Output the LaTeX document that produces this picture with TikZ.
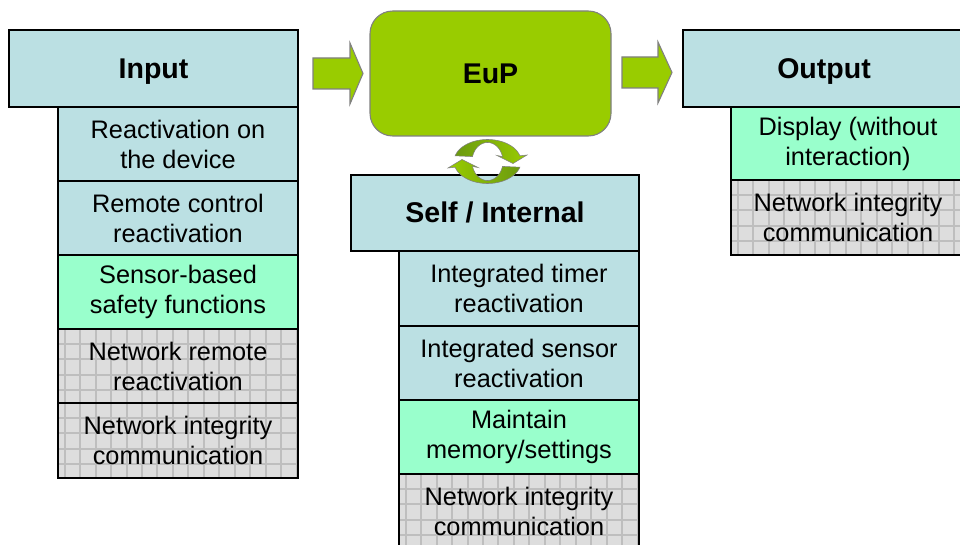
\documentclass[tikz,border=0pt]{standalone}
\usepackage{fontspec}
\setmainfont{Liberation Sans}
\definecolor{hdrblue}{HTML}{BBE0E3}
\definecolor{mint}{HTML}{99FFCC}
\definecolor{eupgreen}{HTML}{99CC00}
\definecolor{darkgreen}{HTML}{6B9A10}
\definecolor{gridbg}{HTML}{DDDDDD}
\definecolor{gridln}{HTML}{BEBEBE}
\definecolor{edgegray}{HTML}{808080}
\tikzset{
  wh/.style 2 args={minimum width=#1*0.75pt, minimum height=#2*0.75pt},
  cell/.style={draw=black, line width=0.9pt, inner sep=0pt, align=center,
    font=\fontsize{19}{22.5}\selectfont},
  hdr/.style={cell, fill=hdrblue, font=\bfseries\fontsize{21.4}{25}\selectfont,
    text height=19.4pt, text depth=4.5pt},
  bluecell/.style={cell, fill=hdrblue},
  mintcell/.style={cell, fill=mint},
  gridcell/.style={cell, fill=gridbg, path picture={
    \foreach \k in {0,...,20}{
      \draw[gridln, line width=1.5pt]
        ([xshift=5pt+\k*11.6pt]path picture bounding box.north west) -- ++(0pt,-200pt);
      \draw[gridln, line width=1.5pt]
        ([yshift=-11.25pt-\k*11.6pt]path picture bounding box.north west) -- ++(300pt,0pt);
    }}},
  blockarrow/.style={fill=eupgreen, draw=edgegray, line width=0.8pt},
  cyclearc/.style={draw=edgegray, line width=0.4pt},
}
\begin{document}
\begin{tikzpicture}[x=0.75pt, y=-0.75pt]
\useasboundingbox (0,0) rectangle (960,545);
\fill[white] (0,0) rectangle (960,545);
\clip (0,0) rectangle (960,545);

% Input column
\node[hdr, wh={289}{77}] (inhdr) at (153.5,68.5) {Input};
\node[bluecell, wh={240}{74}] (in1) at (178,144) {Reactivation on\\the device};
\node[bluecell, wh={240}{74}] (in2) at (178,218) {Remote control\\reactivation};
\node[mintcell, wh={240}{74}] (in3) at (178,292) {Sensor-based\\safety functions};
\node[gridcell, wh={240}{74}] (in4) at (178,366) {Network remote\\reactivation};
\node[gridcell, wh={240}{75}] (in5) at (178,440.5) {Network integrity\\communication};

% EuP
\node[fill=eupgreen, draw=edgegray, line width=0.8pt, rounded corners=17pt,
      wh={241}{125}, font=\bfseries\fontsize{21.4}{25}\selectfont,
      text height=19.4pt, text depth=4.5pt] (eup) at (490.5,73.5) {EuP};

% block arrows
\path[blockarrow] (313,58) -- (350,58) -- (350,43) -- (363,73.5) -- (350,104)
  -- (350,89) -- (313,89) -- cycle;
\path[blockarrow] (622,57) -- (658,57) -- (658,42) -- (672,72.5) -- (658,103)
  -- (658,88) -- (622,88) -- cycle;

% Self / Internal column
\node[hdr, wh={288}{76}] (shdr) at (495,213) {Self / Internal};
\node[bluecell, wh={240}{75}] (s1) at (519,288.5) {Integrated timer\\reactivation};
\node[bluecell, wh={240}{74}] (s2) at (519,363) {Integrated sensor\\reactivation};
\node[mintcell, wh={240}{74}] (s3) at (519,437) {Maintain\\memory/settings};
\node[gridcell, wh={240}{74}] (s4) at (519,511) {Network integrity\\communication};

% Output column
\node[hdr, wh={282}{77}] (outhdr) at (824,68.5) {Output};
\node[mintcell, wh={234}{73}] (o1) at (848,143.5) {Display (without\\interaction)};
\node[gridcell, wh={234}{75}] (o2) at (848,217.5) {Network integrity\\communication};

% circular arrows
\def\cx{487.5}\def\cy{161.5}
\path[cyclearc, left color=eupgreen, right color=darkgreen]
  plot[domain=15:165, samples=40] ({\cx+33.5*cos(\x)},{\cy+22*sin(\x)})
  -- (448,168) -- (462,159.5) -- (478,167.5)
  -- plot[domain=165:15, samples=40] ({\cx+15.5*cos(\x)},{\cy+19*sin(\x)}) -- cycle;
\path[cyclearc, left color=darkgreen, right color=eupgreen]
  plot[domain=195:345, samples=40] ({\cx+33.5*cos(\x)},{\cy+22*sin(\x)})
  -- (527,155) -- (513,163.5) -- (497,155.5)
  -- plot[domain=345:195, samples=40] ({\cx+15.5*cos(\x)},{\cy+19*sin(\x)}) -- cycle;
\end{tikzpicture}
\end{document}
